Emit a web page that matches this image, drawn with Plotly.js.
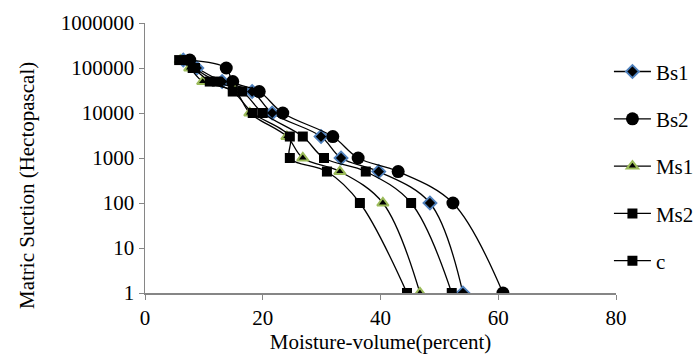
<!DOCTYPE html>
<html>
<head>
<meta charset="utf-8">
<script src="https://cdn.plot.ly/plotly-3.0.1.min.js"></script>
<style>html,body{margin:0;padding:0;background:#fff;}#chart{width:697px;height:354px;}</style>
</head>
<body>
<div id="chart"></div>
<script>
// Matric suction levels (hPa) shared by all series
const suction = [150000, 100000, 50000, 30000, 10000, 3000, 1000, 500, 100, 1];
// Moisture-volume (percent) per series
const bs1 = [6.5, 8.8, 13.1, 18.2, 21.6, 29.9, 33.3, 39.7, 48.4, 54.0];
const bs2 = [7.6, 13.8, 14.9, 19.4, 23.4, 31.9, 36.2, 43.0, 52.3, 60.8];
const ms1 = [6.0, 7.6, 9.8, 15.3, 17.8, 24.1, 26.8, 33.1, 40.4, 46.7];
const ms2 = [5.8, 8.1, 11.0, 14.9, 18.3, 24.6, 24.6, 30.9, 36.5, 44.5];
const cS  = [7.3, 8.5, 12.2, 16.5, 20.0, 26.8, 30.4, 37.5, 45.2, 52.1];
const seriesNames = ["Bs1", "Bs2", "Ms1", "Ms2", "c"];
const yTickVals = [1, 10, 100, 1000, 10000, 100000, 1000000];
const yTickText = ["1", "10", "100", "1000", "10000", "100000", "1000000"];
const xTickVals = [0, 20, 40, 60, 80];

const FONT = "Times New Roman, Liberation Serif, serif";
const FS = 21;
const lineStyle = {color: "#000000", width: 1.3, shape: "spline", smoothing: 1};
const markers = [
  {symbol: "diamond", size: 10, color: "#000000", line: {color: "#4F81BD", width: 1.8}},
  {symbol: "circle", size: 13, color: "#000000", line: {color: "#000000", width: 0}},
  {symbol: "triangle-up", size: 10, color: "#000000", line: {color: "#9BBB59", width: 2}},
  {symbol: "square", size: 10, color: "#000000", line: {color: "#000000", width: 0}},
  {symbol: "square", size: 10, color: "#000000", line: {color: "#000000", width: 0}}
];
const xs = [bs1, bs2, ms1, ms2, cS];
const traces = xs.map((x, i) => ({
  type: "scatter", mode: "lines+markers", name: seriesNames[i],
  x: x, y: suction, line: lineStyle, marker: markers[i],
  legendgroup: "g" + i, hoverinfo: "skip"
}));

const layout = {
  width: 697, height: 354,
  margin: {l: 145, r: 81, t: 23, b: 61, autoexpand: false},
  paper_bgcolor: "#ffffff", plot_bgcolor: "#ffffff",
  font: {family: FONT, size: FS, color: "#000000"},
  showlegend: true,
  legend: {x: 0.985, xanchor: "left", y: 0.895, yanchor: "top",
           font: {family: FONT, size: FS, color: "#000"}, itemwidth: 37,
           traceorder: "grouped", tracegroupgap: 17, bgcolor: "rgba(0,0,0,0)"},
  xaxis: {range: [0, 80], tickvals: xTickVals, ticks: "outside", ticklen: 5,
          tickcolor: "#868686", showline: true, linecolor: "#868686", linewidth: 1.5,
          showgrid: false, zeroline: false,
          tickfont: {family: FONT, size: FS},
          title: {text: "Moisture-volume(percent)", font: {family: FONT, size: FS}, standoff: 8}},
  yaxis: {type: "log", range: [0, 6], tickvals: yTickVals, ticktext: yTickText,
          ticks: "outside", ticklen: 5, tickcolor: "#868686",
          showline: true, linecolor: "#868686", linewidth: 1.5,
          showgrid: false, zeroline: false,
          tickfont: {family: FONT, size: FS}},
  annotations: [{
    text: "Matric Suction (Hectopascal)", textangle: -90,
    xref: "paper", yref: "paper", x: (27 - 145) / 471, y: (293 - 186) / 270,
    xanchor: "center", yanchor: "middle", showarrow: false,
    font: {family: FONT, size: FS, color: "#000"}
  }]
};

Plotly.newPlot("chart", traces, layout, {staticPlot: true, displayModeBar: false});
</script>
</body>
</html>
